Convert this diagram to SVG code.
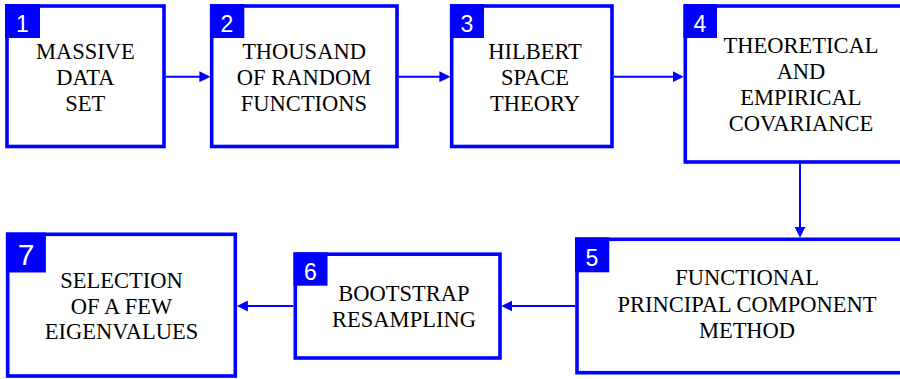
<svg xmlns="http://www.w3.org/2000/svg" width="900" height="379" viewBox="0 0 900 379">
<defs>
<style>
.box{fill:#fff;stroke:#0000ff;stroke-width:3.6}
.badge{fill:#0000ff}
.num{fill:#fff;font-family:'Liberation Sans',Arial,sans-serif;font-size:23px;text-anchor:middle}
.lbl{fill:#000;font-family:'Liberation Serif','Times New Roman',serif;font-size:22.5px;text-anchor:middle}
.conn{fill:none;stroke:#0000ff;stroke-width:2;marker-end:url(#ah)}
</style>
<marker id="ah" markerUnits="userSpaceOnUse" markerWidth="11" markerHeight="11" refX="6" refY="5" orient="auto" viewBox="0 0 10 10">
<path d="M0,0 L10,5 L0,10 z" fill="#0000ff"/>
</marker>
</defs>
<rect width="900" height="379" fill="#fff"/>
<g id="connectors">
<path class="conn" d="M165.7 76.7 H206"/>
<path class="conn" d="M399 76.7 H446"/>
<path class="conn" d="M614 76.7 H679.3"/>
<path class="conn" d="M800 164 V233.3"/>
<path class="conn" d="M575 306 H505.7"/>
<path class="conn" d="M293.3 306 H241.3"/>
</g>
<g id="node1">
<rect class="box" x="7" y="6" width="157" height="140.5"/>
<rect class="badge" x="5" y="4" width="35" height="34"/>
<text class="num" x="22.5" y="32.3">1</text>
<text class="lbl" x="85.3" y="58.7">MASSIVE</text>
<text class="lbl" x="85.3" y="85">DATA</text>
<text class="lbl" x="85.3" y="110.7">SET</text>
</g>
<g id="node2">
<rect class="box" x="211.7" y="6" width="185.3" height="140.5"/>
<rect class="badge" x="210" y="4" width="34.3" height="34"/>
<text class="num" x="227" y="32.3">2</text>
<text class="lbl" x="304" y="58.7">THOUSAND</text>
<text class="lbl" x="304" y="85">OF RANDOM</text>
<text class="lbl" x="304" y="110.7">FUNCTIONS</text>
</g>
<g id="node3">
<rect class="box" x="451.7" y="6" width="160.3" height="140.5"/>
<rect class="badge" x="450" y="4" width="34" height="34"/>
<text class="num" x="467" y="32.3">3</text>
<text class="lbl" x="535" y="58.7">HILBERT</text>
<text class="lbl" x="535" y="85">SPACE</text>
<text class="lbl" x="535" y="110.7">THEORY</text>
</g>
<g id="node4">
<rect class="box" x="685.3" y="6" width="232" height="156"/>
<rect class="badge" x="683.5" y="4" width="33.5" height="34"/>
<text class="num" x="700" y="32.3">4</text>
<text class="lbl" x="801" y="52.7">THEORETICAL</text>
<text class="lbl" x="801" y="78.7">AND</text>
<text class="lbl" x="801" y="104.7">EMPIRICAL</text>
<text class="lbl" x="801" y="130.7">COVARIANCE</text>
</g>
<g id="node5">
<rect class="box" x="577" y="239.3" width="340" height="133.4"/>
<rect class="badge" x="575" y="237.3" width="34.3" height="35"/>
<text class="num" x="592" y="265.7">5</text>
<text class="lbl" x="747" y="285">FUNCTIONAL</text>
<text class="lbl" x="747" y="311.7">PRINCIPAL COMPONENT</text>
<text class="lbl" x="747" y="337.7">METHOD</text>
</g>
<g id="node6">
<rect class="box" x="295.3" y="254.2" width="204.7" height="103.8"/>
<rect class="badge" x="293.5" y="252.3" width="34" height="33.4"/>
<text class="num" x="310.5" y="280">6</text>
<text class="lbl" x="404" y="301">BOOTSTRAP</text>
<text class="lbl" x="404" y="326.7">RESAMPLING</text>
</g>
<g id="node7">
<rect class="box" x="7.7" y="234.3" width="227.6" height="141.7"/>
<rect class="badge" x="5.9" y="232.5" width="40" height="40"/>
<text class="num" x="26" y="265.3" style="font-size:30px">7</text>
<text class="lbl" x="121.5" y="288.3">SELECTION</text>
<text class="lbl" x="121.5" y="314">OF A FEW</text>
<text class="lbl" x="121.5" y="339.3">EIGENVALUES</text>
</g>
</svg>
